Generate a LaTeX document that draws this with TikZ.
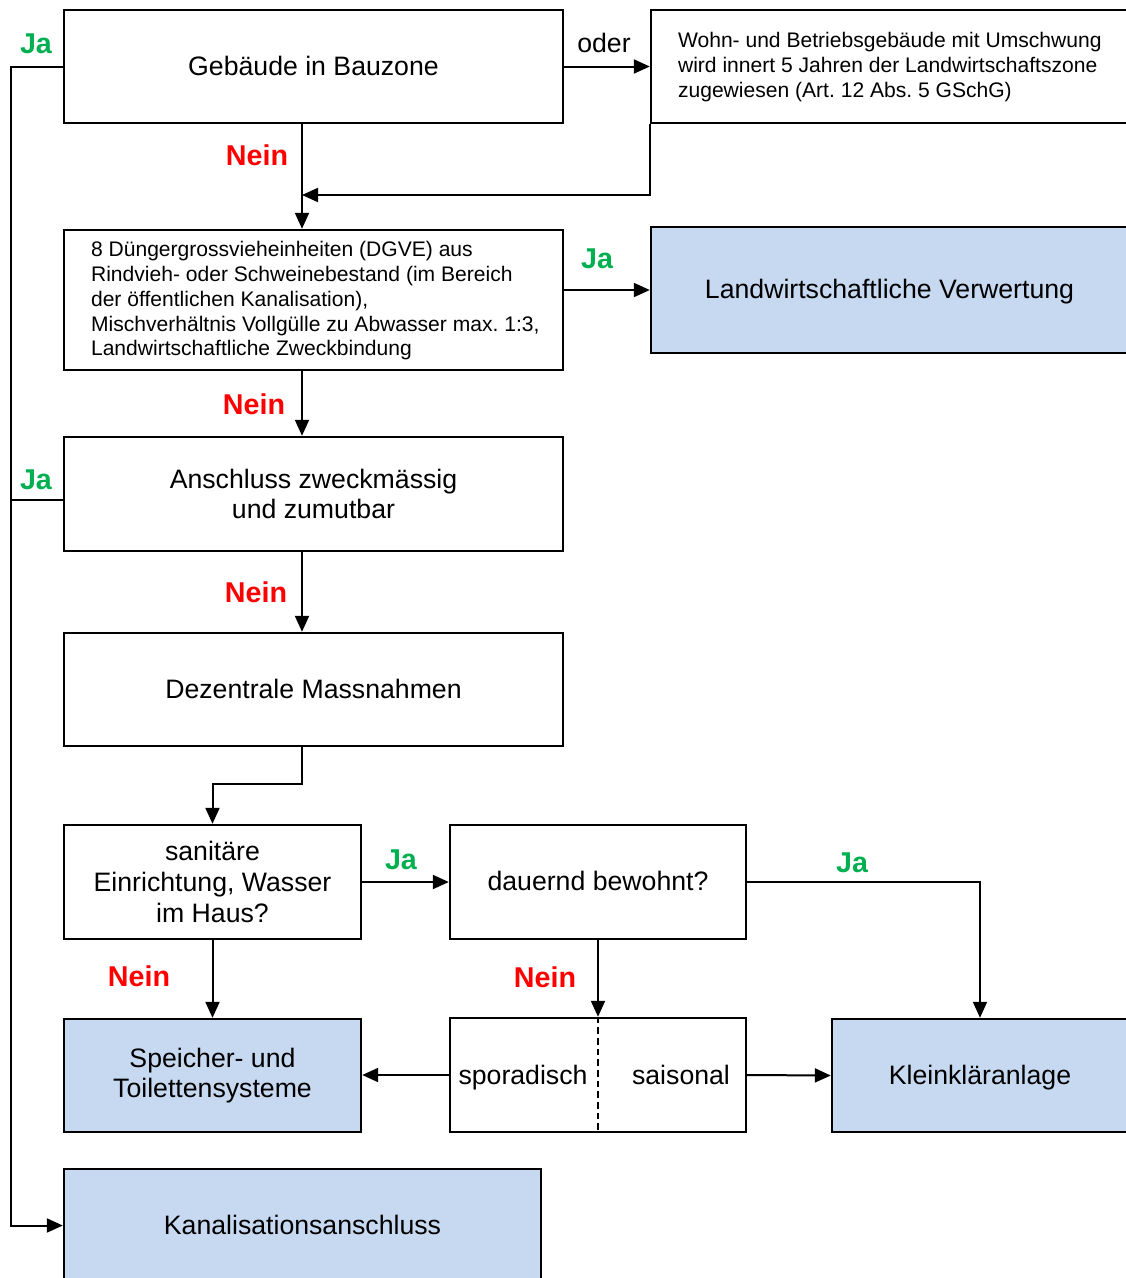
\documentclass[tikz,border=0pt]{standalone}
\usepackage{fontspec}
\setmainfont{Liberation Sans}
\usetikzlibrary{arrows.meta}
\definecolor{boxblue}{HTML}{C6D9F1}
\definecolor{jagreen}{HTML}{00B050}
\definecolor{neinred}{HTML}{FF0000}
\frenchspacing
\begin{document}
\begin{tikzpicture}[x=0.75pt,y=-0.75pt,
  box/.style={draw=black,line width=1.8pt,inner sep=0pt,align=center,font=\fontsize{20}{23}\selectfont},
  one/.style={text height=17pt,text depth=4.2pt},
  bluebox/.style={box,fill=boxblue},
  smalltext/.style={font=\fontsize{15.8}{18.7}\selectfont,align=left,inner sep=0pt,anchor=west},
  arr/.style={line width=1.5pt,-{Triangle[length=12pt,width=10.5pt]}},
  conn/.style={line width=1.5pt},
  ja/.style={text=jagreen,font=\fontsize{21.5}{24}\selectfont\bfseries},
  nein/.style={text=neinred,font=\fontsize{21.5}{24}\selectfont\bfseries},
  plain/.style={font=\fontsize{20}{23}\selectfont,text height=17pt,text depth=4.2pt}]
\useasboundingbox (0,0) rectangle (1126,1278);
\clip (0,0) rectangle (1126,1278);
% boxes
\node[box,one,minimum width=374.25pt,minimum height=84.75pt] (b1) at (313.5,66.5) {Gebäude in Bauzone};
\node[box,minimum width=357.75pt,minimum height=84.75pt] (b2) at (889.5,66.5) {};
\node[smalltext] (t2) at ([xshift=21pt,yshift=-0.5pt]b2.west)
  {Wohn- und Betriebsgebäude mit Umschwung\\wird innert 5 Jahren der Landwirtschaftszone\\zugewiesen (Art. 12 Abs. 5 GSchG)};
\node[box,minimum width=374.25pt,minimum height=105pt] (b3) at (313.5,300) {};
\node[smalltext] (t3) at ([xshift=21pt,yshift=-0.5pt]b3.west)
  {8 Düngergrossvieheinheiten (DGVE) aus\\Rindvieh- oder Schweinebestand (im Bereich\\der öffentlichen Kanalisation),\\Mischverhältnis Vollgülle zu Abwasser max. 1:3,\\Landwirtschaftliche Zweckbindung};
\node[bluebox,one,minimum width=357.75pt,minimum height=94.5pt] (b4) at (889.5,290) {Landwirtschaftliche Verwertung};
\node[box,minimum width=374.25pt,minimum height=85.5pt] (b5) at (313.5,494) {Anschluss zweckmässig\\und zumutbar};
\node[box,one,minimum width=374.25pt,minimum height=84.75pt] (b6) at (313.5,689.5) {Dezentrale Massnahmen};
\node[box,minimum width=222.75pt,minimum height=85.5pt] (b7) at (212.5,882) {sanitäre\\Einrichtung, Wasser\\im Haus?};
\node[box,one,minimum width=222pt,minimum height=85.5pt] (b8) at (598,882) {dauernd bewohnt?};
\node[bluebox,minimum width=222.75pt,minimum height=84.75pt] (b9) at (212.5,1075.5) {Speicher- und\\Toilettensysteme};
\node[box,minimum width=222pt,minimum height=85.5pt] (b10) at (598,1075) {};
\node[plain] (spor) at (523,1076) {sporadisch};
\node[plain] (sais) at (681,1076) {saisonal};
\node[bluebox,one,minimum width=222pt,minimum height=84.75pt] (b11) at (980,1075.5) {Kleinkläranlage};
\node[bluebox,one,minimum width=357.75pt,minimum height=84.75pt] (b12) at (302.5,1225.5) {Kanalisationsanschluss};
\draw[line width=0.8pt,dashed,dash pattern=on 5pt off 3pt] (b10.north) -- (b10.south);
% helper coordinates
\coordinate (cx) at (302,0);
\coordinate (L) at (11,0);
\coordinate (m1) at (302,195);
% connectors
\draw[arr] (b1.east) -- (b2.west |- b1.east);
\draw[arr] (b1.south -| cx) -- (b3.north -| cx);
\draw[arr] (b2.south west) |- (m1);
\draw[arr] (b4.west -| b3.east) -- (b4.west);
\draw[arr] (b3.south -| cx) -- (b5.north -| cx);
\draw[arr] (b5.south -| cx) -- (b6.north -| cx);
\draw[arr] (b6.south -| cx) -- ++(0,37) -| (b7.north);
\draw[arr] (b7.east) -- (b8.west);
\draw[arr] (b8.east) -| (b11.north);
\draw[arr] (b7.south) -- (b9.north);
\draw[arr] (b8.south) -- (b10.north);
\draw[arr] (b10.west) -- (b9.east |- b10.west);
\draw[arr] (b10.east) -- (b11.west);
\draw[arr] (b1.west) -- (b1.west -| L) |- (b12.west);
\draw[conn] ([yshift=-4.5pt]b5.west) -- ([yshift=-4.5pt]b5.west -| L);
% labels
\node[plain] (loder) at (604,44) {oder};
\node[ja] (lja1) at (36,44) {Ja};
\node[nein] (lnein1) at (257,155) {Nein};
\node[ja] (lja2) at (597,259) {Ja};
\node[nein] (lnein2) at (254,404) {Nein};
\node[ja] (lja3) at (36,480) {Ja};
\node[nein] (lnein3) at (256,592) {Nein};
\node[ja] (lja4) at (401,860) {Ja};
\node[ja] (lja5) at (852,863) {Ja};
\node[nein] (lnein4) at (139,976) {Nein};
\node[nein] (lnein5) at (545,977) {Nein};
\end{tikzpicture}
\end{document}
